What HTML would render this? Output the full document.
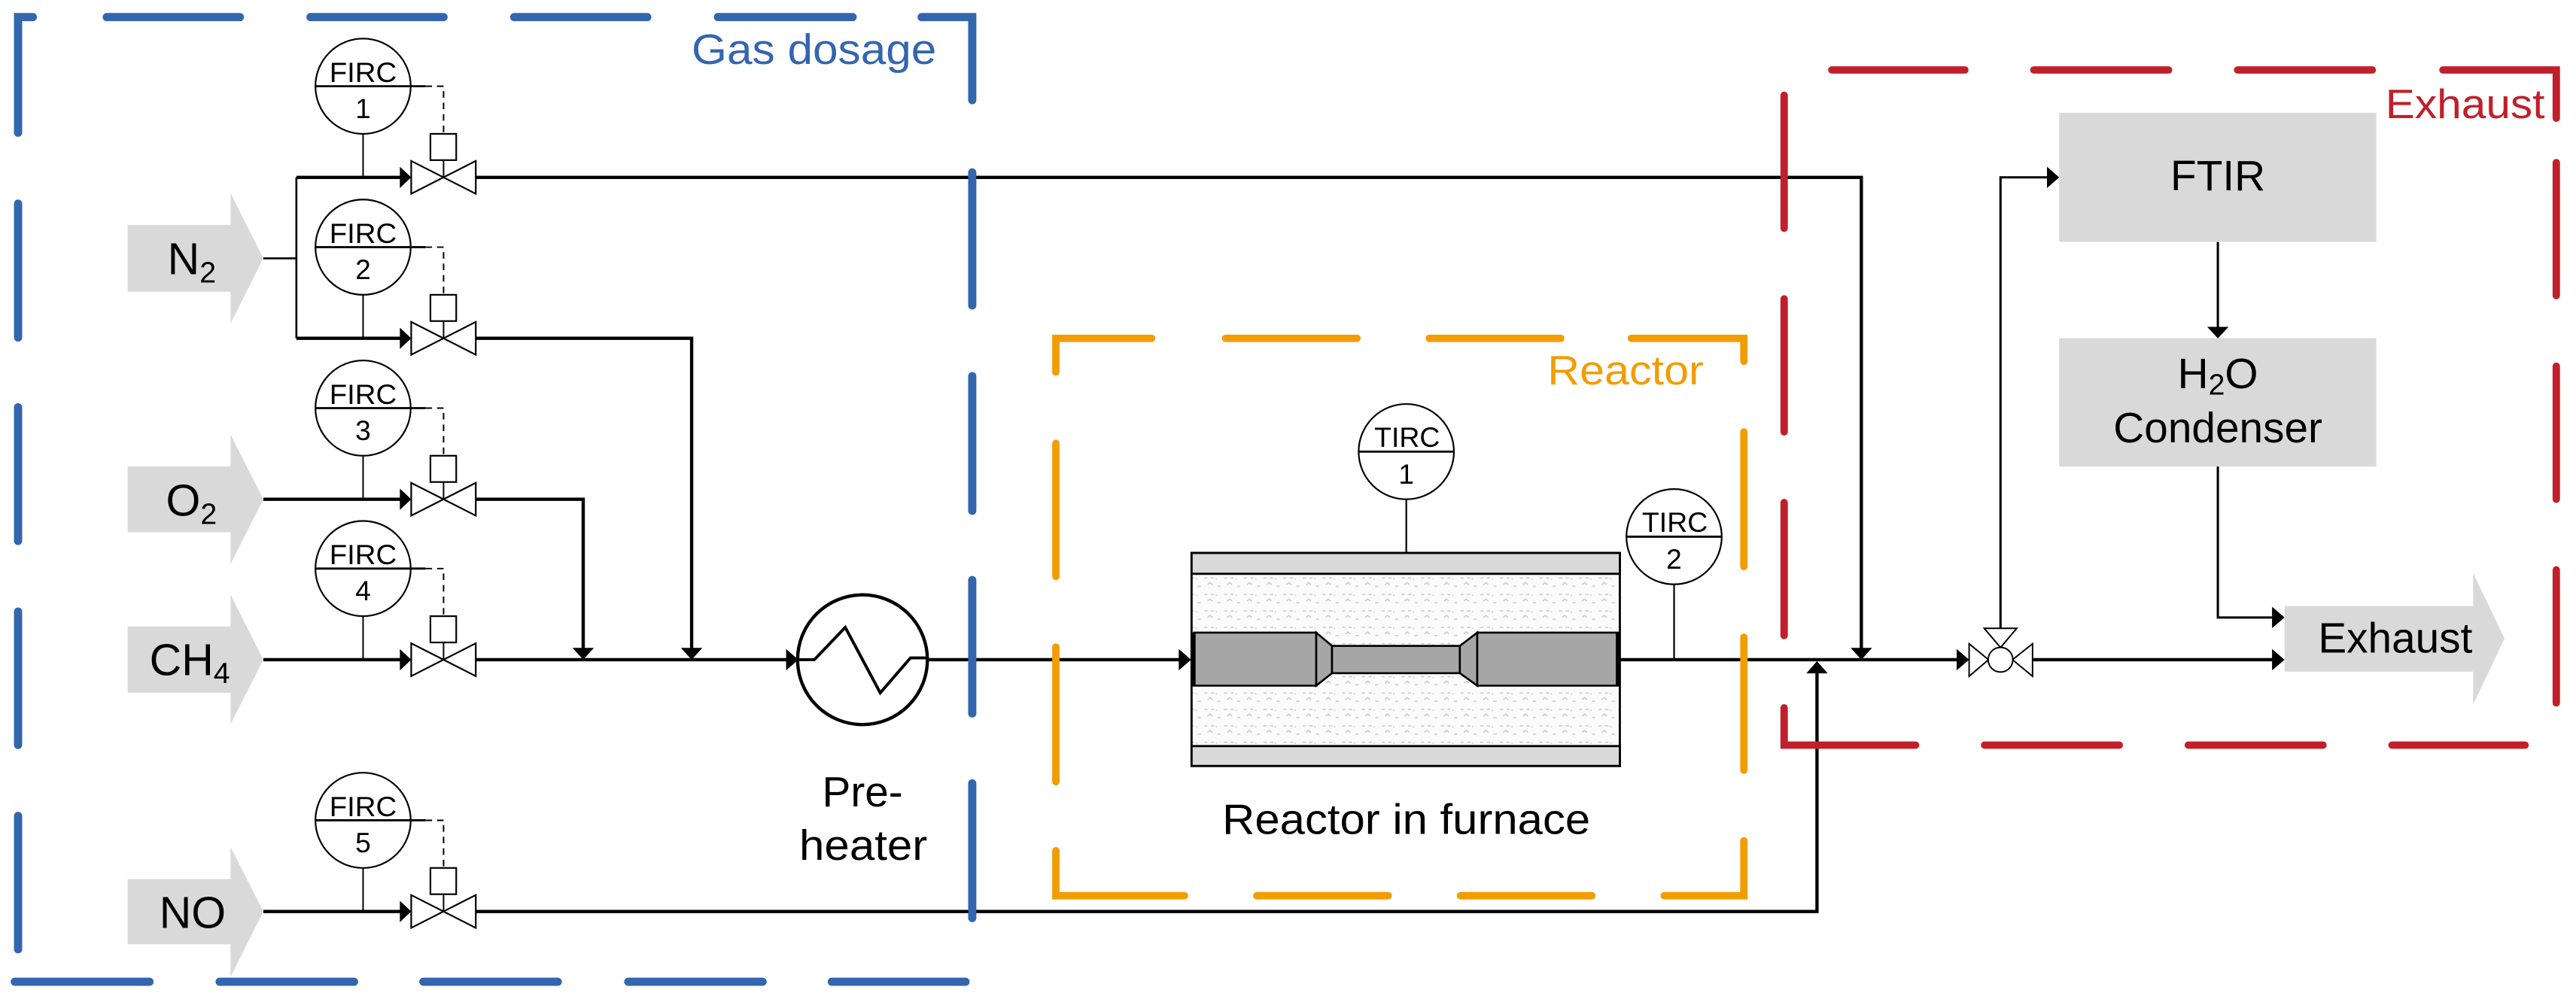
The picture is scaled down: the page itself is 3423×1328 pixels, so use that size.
<!DOCTYPE html>
<html><head><meta charset="utf-8"><style>
html,body{margin:0;padding:0;background:#fff}
svg{display:block}
text{font-family:"Liberation Sans",Arial,sans-serif}
</style></head><body>
<svg width="3423" height="1328" viewBox="0 0 1568 608.3" preserveAspectRatio="none" xmlns="http://www.w3.org/2000/svg">
<defs>
<pattern id="ins" width="12" height="10" patternUnits="userSpaceOnUse">
<rect width="12" height="10" fill="#fbfbfb"/>
<path d="M1 2h2M5 2h2M3 6l1.5 -1.2l1.5 1.2M9 7h2M8 2.5h0.8" stroke="#cfcfcf" stroke-width="0.8" fill="none"/>
</pattern>
</defs>

<!-- Inlet arrows -->
<g fill="#d9d9d9">
<polygon points="77.7,137 140.3,137 140.3,117.6 160.3,157.3 140.3,197 140.3,177.6 77.7,177.6"/>
<polygon points="77.7,284 140.3,284 140.3,264.5 160.3,304 140.3,343.5 140.3,324 77.7,324"/>
<polygon points="77.7,381.5 140.3,381.5 140.3,362 160.3,401.7 140.3,441 140.3,421.8 77.7,421.8"/>
<polygon points="77.7,535.3 140.3,535.3 140.3,515.6 160.3,555 140.3,595 140.3,575 77.7,575"/>
</g>
<g font-size="27" fill="#000">
<text x="102" y="167">N<tspan font-size="18" dy="5">2</tspan></text>
<text x="101" y="314">O<tspan font-size="18" dy="5">2</tspan></text>
<text x="91" y="411">CH<tspan font-size="18" dy="5">4</tspan></text>
<text x="97" y="565">NO</text>
</g>

<!-- thin pipes near N2 -->
<g stroke="#000" fill="none">
<path d="M160.3 157.3H180.4M180.4 108V206" stroke-width="1.2"/>
</g>

<!-- thick pipes -->
<g stroke="#000" stroke-width="2" fill="none">
<path d="M180.4 108H244M180.4 206H244M160.3 304H244M160.3 401.7H244M160.3 555H244"/>
<path d="M289.6 108H1133V395"/>
<path d="M289.6 206H421V395"/>
<path d="M289.6 304H355V395"/>
<path d="M289.6 401.7H479"/>
<path d="M564.4 401.7H718"/>
<path d="M986 401.7H1191"/>
<path d="M1237.2 401.7H1383"/>
<path d="M289.6 555H1106V410"/>
</g>
<g stroke="#000" stroke-width="1.4" fill="none">
<path d="M1217.7 382.6V108H1246"/>
<path d="M1350 147.3V199"/>
<path d="M1350 284V376H1383"/>
</g>

<!-- arrowheads -->
<g fill="#000">
<polygon points="243.4,101.5 250.3,108 243.4,114.5"/>
<polygon points="243.4,199.5 250.3,206 243.4,212.5"/>
<polygon points="243.4,297.5 250.3,304 243.4,310.5"/>
<polygon points="243.4,395.2 250.3,401.7 243.4,408.2"/>
<polygon points="243.4,548.5 250.3,555 243.4,561.5"/>
<polygon points="1126.5,394.5 1139.5,394.5 1133,401.7"/>
<polygon points="414.5,394.5 427.5,394.5 421,401.7"/>
<polygon points="348.5,394.5 361.5,394.5 355,401.7"/>
<polygon points="1099.5,410 1112.5,410 1106,402.6"/>
<polygon points="478.5,395.2 486,401.7 478.5,408.2"/>
<polygon points="717.5,395.2 725,401.7 717.5,408.2"/>
<polygon points="1191,395.2 1198.6,401.7 1191,408.2"/>
<polygon points="1383,395.2 1390.6,401.7 1383,408.2"/>
<polygon points="1383,369.5 1390.6,376 1383,382.5"/>
<polygon points="1246,101.5 1253.4,108 1246,114.5"/>
<polygon points="1343.5,199 1356.5,199 1350,206"/>
</g>

<!-- FIRC units -->
<g id="firc" stroke="#000" fill="none">
<g transform="translate(0,108)">
<circle cx="221" cy="-55.5" r="29" stroke-width="1" fill="#fff"/>
<path d="M192 -55.5H259" stroke-width="1.3"/>
<path d="M259 -55.5H270V-26.5" stroke-width="0.9" stroke-dasharray="4 3"/>
<rect x="262" y="-26.5" width="15.7" height="16" stroke-width="1" fill="#fff"/>
<path d="M270 -10.5V0M221 -26.5V0" stroke-width="0.9"/>
<path d="M250.3 -10L289.6 10V-10L250.3 10Z" stroke-width="1" fill="#fff"/>
</g>
<g transform="translate(0,206)">
<circle cx="221" cy="-55.5" r="29" stroke-width="1" fill="#fff"/>
<path d="M192 -55.5H259" stroke-width="1.3"/>
<path d="M259 -55.5H270V-26.5" stroke-width="0.9" stroke-dasharray="4 3"/>
<rect x="262" y="-26.5" width="15.7" height="16" stroke-width="1" fill="#fff"/>
<path d="M270 -10.5V0M221 -26.5V0" stroke-width="0.9"/>
<path d="M250.3 -10L289.6 10V-10L250.3 10Z" stroke-width="1" fill="#fff"/>
</g>
<g transform="translate(0,304)">
<circle cx="221" cy="-55.5" r="29" stroke-width="1" fill="#fff"/>
<path d="M192 -55.5H259" stroke-width="1.3"/>
<path d="M259 -55.5H270V-26.5" stroke-width="0.9" stroke-dasharray="4 3"/>
<rect x="262" y="-26.5" width="15.7" height="16" stroke-width="1" fill="#fff"/>
<path d="M270 -10.5V0M221 -26.5V0" stroke-width="0.9"/>
<path d="M250.3 -10L289.6 10V-10L250.3 10Z" stroke-width="1" fill="#fff"/>
</g>
<g transform="translate(0,401.7)">
<circle cx="221" cy="-55.5" r="29" stroke-width="1" fill="#fff"/>
<path d="M192 -55.5H259" stroke-width="1.3"/>
<path d="M259 -55.5H270V-26.5" stroke-width="0.9" stroke-dasharray="4 3"/>
<rect x="262" y="-26.5" width="15.7" height="16" stroke-width="1" fill="#fff"/>
<path d="M270 -10.5V0M221 -26.5V0" stroke-width="0.9"/>
<path d="M250.3 -10L289.6 10V-10L250.3 10Z" stroke-width="1" fill="#fff"/>
</g>
<g transform="translate(0,555)">
<circle cx="221" cy="-55.5" r="29" stroke-width="1" fill="#fff"/>
<path d="M192 -55.5H259" stroke-width="1.3"/>
<path d="M259 -55.5H270V-26.5" stroke-width="0.9" stroke-dasharray="4 3"/>
<rect x="262" y="-26.5" width="15.7" height="16" stroke-width="1" fill="#fff"/>
<path d="M270 -10.5V0M221 -26.5V0" stroke-width="0.9"/>
<path d="M250.3 -10L289.6 10V-10L250.3 10Z" stroke-width="1" fill="#fff"/>
</g>
</g>
<g font-size="17" fill="#000" text-anchor="middle">
<text x="221" y="50" textLength="41" lengthAdjust="spacingAndGlyphs">FIRC</text><text x="221" y="72">1</text>
<text x="221" y="148" textLength="41" lengthAdjust="spacingAndGlyphs">FIRC</text><text x="221" y="170">2</text>
<text x="221" y="246" textLength="41" lengthAdjust="spacingAndGlyphs">FIRC</text><text x="221" y="268">3</text>
<text x="221" y="343.5" textLength="41" lengthAdjust="spacingAndGlyphs">FIRC</text><text x="221" y="365.5">4</text>
<text x="221" y="497" textLength="41" lengthAdjust="spacingAndGlyphs">FIRC</text><text x="221" y="519">5</text>
</g>

<!-- Preheater -->
<circle cx="525" cy="401.7" r="39.5" stroke="#000" stroke-width="2" fill="#fff"/>
<path d="M486 401.7H495.7L514.5 382L535.8 421.9L554.2 400.6H564.4" stroke="#000" stroke-width="1.8" fill="none"/>
<g font-size="26" fill="#000" text-anchor="middle">
<text x="525" y="491">Pre-</text>
<text x="525.5" y="523.6" textLength="78" lengthAdjust="spacingAndGlyphs">heater</text>
</g>

<!-- Furnace/reactor -->
<rect x="725.3" y="336.7" width="260.7" height="129.7" fill="url(#ins)" stroke="#000" stroke-width="1.3"/>
<rect x="725.3" y="336.7" width="260.7" height="12.7" fill="#d9d9d9" stroke="#000" stroke-width="1.3"/>
<rect x="725.3" y="454.3" width="260.7" height="12.1" fill="#d9d9d9" stroke="#000" stroke-width="1.3"/>
<g fill="#a6a6a6" stroke="#000" stroke-width="1.2">
<rect x="727" y="385.2" width="74.2" height="32.3"/>
<polygon points="801.2,385.2 810.8,393.3 810.8,409.9 801.2,417.5"/>
<rect x="810.8" y="393.3" width="77.8" height="16.6"/>
<polygon points="888.6,393.3 899.2,385.2 899.2,417.5 888.6,409.9"/>
<rect x="899.2" y="385.2" width="85.7" height="32.3"/>
</g>
<path d="M726.5 385V418M984.8 385V418" stroke="#000" stroke-width="2.5"/>
<!-- TIRC -->
<g stroke="#000" fill="#fff" stroke-width="1">
<path d="M856 304V336.7M1019 356V401.7" fill="none"/>
<circle cx="856" cy="275" r="29"/>
<path d="M827 275H885" stroke-width="1.3"/>
<circle cx="1019" cy="326.8" r="29"/>
<path d="M990 326.8H1048" stroke-width="1.3"/>
</g>
<g font-size="17" fill="#000" text-anchor="middle">
<text x="856.5" y="272" textLength="40" lengthAdjust="spacingAndGlyphs">TIRC</text><text x="856" y="294.5">1</text>
<text x="1019.5" y="323.8" textLength="40" lengthAdjust="spacingAndGlyphs">TIRC</text><text x="1019" y="346.3">2</text>
</g>
<text x="856" y="507.7" font-size="26" text-anchor="middle" textLength="224" lengthAdjust="spacingAndGlyphs">Reactor in furnace</text>

<!-- 3-way valve -->
<g stroke="#000" stroke-width="0.9" fill="#fff">
<polygon points="1198.6,392 1210.4,401.7 1198.6,411.8"/>
<polygon points="1237.2,392 1225,401.7 1237.2,411.8"/>
<polygon points="1207.8,382.6 1227.6,382.6 1217.7,394.3"/>
<circle cx="1217.7" cy="401.7" r="7.5"/>
</g>

<!-- FTIR / Condenser / Exhaust -->
<rect x="1253.4" y="68.7" width="193" height="78.6" fill="#d9d9d9"/>
<rect x="1253.4" y="205.9" width="193" height="78.2" fill="#d9d9d9"/>
<polygon points="1390.6,369 1505.4,369 1505.4,349 1524.5,388.8 1505.4,429 1505.4,409 1390.6,409" fill="#d9d9d9"/>
<g font-size="26" fill="#000" text-anchor="middle">
<text x="1350" y="116">FTIR</text>
<text x="1350" y="236.3">H<tspan font-size="18" dy="4">2</tspan><tspan dy="-4">O</tspan></text>
<text x="1350" y="269.4">Condenser</text>
<text x="1458" y="397.4">Exhaust</text>
</g>

<!-- Blue box -->
<g stroke="#3465AF" stroke-width="5" stroke-linecap="round" fill="none">
<path d="M11 80.8V10.4H20"/>
<path d="M11 124V205.5M11 248V329.4M11 372.4V453.6M11 496.8V578"/>
<path d="M65 10.4H146M189 10.4H270M313 10.4H394M437 10.4H519M561 10.4H591.8V61"/>
<path d="M591.8 105V186M591.8 229V311M591.8 353.2V434.4M591.8 477V559"/>
<path d="M9 597.8H91M133.7 597.8H215.5M257.7 597.8H339.5M382.4 597.8H464.2M506.3 597.8H587.7"/>
</g>
<text x="570" y="39" font-size="26" fill="#3465AF" text-anchor="end" textLength="149" lengthAdjust="spacingAndGlyphs">Gas dosage</text>

<!-- Orange box -->
<g stroke="#F39C00" stroke-width="4.5" stroke-linecap="round" fill="none">
<path d="M642.7 226.6V206H701"/>
<path d="M746 206H826M870 206H950M993 206H1061.5V220"/>
<path d="M1061.5 263V345M1061.5 388V469M1061.5 512V545.4H1013"/>
<path d="M969 545.4H889M845 545.4H765M721 545.4H642.7V518"/>
<path d="M642.7 476V394M642.7 351V270"/>
</g>
<text x="1037" y="234" font-size="25" fill="#F39C00" text-anchor="end" textLength="95" lengthAdjust="spacingAndGlyphs">Reactor</text>

<!-- Red box -->
<g stroke="#C0202A" stroke-width="4.5" stroke-linecap="round" fill="none">
<path d="M1115 42.6H1196M1238 42.6H1320M1362 42.6H1444M1487 42.6H1556V72"/>
<path d="M1556 99V180M1556 223V304M1556 347V428"/>
<path d="M1537 453.7H1456M1414 453.7H1332M1290 453.7H1208M1166 453.7H1086V431"/>
<path d="M1086 387V306M1086 263V182M1086 139V58"/>
</g>
<text x="1549" y="72" font-size="25" fill="#C0202A" text-anchor="end" textLength="97" lengthAdjust="spacingAndGlyphs">Exhaust</text>
</svg>
</body></html>
